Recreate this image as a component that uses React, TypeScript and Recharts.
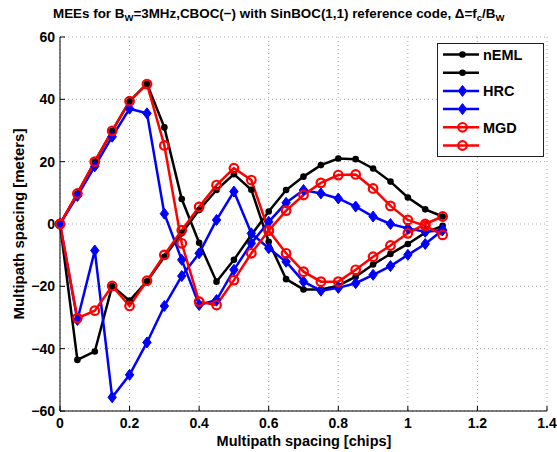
import React from 'react';
import { LineChart, Line, XAxis, YAxis, CartesianGrid, Legend } from 'recharts';

// Multipath spacing [chips]
const spacing = [0, 0.05, 0.1, 0.15, 0.2, 0.25, 0.3, 0.35, 0.4, 0.45, 0.5, 0.55, 0.6, 0.65, 0.7, 0.75, 0.8, 0.85, 0.9, 0.95, 1.0, 1.05, 1.1];

// Multipath error envelopes [meters]
const nemlUpper = [0, 9.8, 20, 29.9, 39.4, 45, 31, 8, -6, -18.5, -11.5, -3.5, 4, 10.9, 15.2, 18.9, 21, 20.8, 17.8, 13.6, 8.5, 4.7, 2.4];
const nemlLower = [0, -43.6, -40.9, -19.9, -24.6, -18.4, -10.5, -3, 4.5, 10.9, 16, 11, -5.7, -17.7, -21, -21, -19.8, -16.9, -13, -9.6, -6.4, -2.8, -0.6];
const hrcUpper = [0, 9, 18.5, 28, 37, 35.5, 3.3, -11.5, -26, -24.4, -14.7, -6.2, 0.7, 6.8, 10.9, 9.8, 8.2, 5.6, 2.4, 0, -1.4, -2.5, -2];
const hrcLower = [0, -30.8, -8.5, -55.6, -48.4, -38, -26.3, -16.7, -9.4, 1.3, 10.4, -3, -7.8, -12.1, -18.5, -21.4, -20.5, -19, -16.3, -13.5, -9.9, -6.4, -1.9];
const mgdUpper = [0, 9.8, 20, 29.9, 39.4, 44.9, 25.2, -6.2, -24.9, -26, -18, -9.4, -2.1, 4.3, 9.3, 13.2, 15.7, 15.9, 11.4, 5.8, 1.3, -0.6, -3.5];
const mgdLower = [0, -30.2, -27.8, -19.9, -26.3, -18.2, -9.9, -2, 5.5, 12.5, 17.9, 14.1, -2.1, -9.4, -15.3, -18.5, -18.5, -14.7, -10.5, -6.9, -3, 0, 2.4];

const xTicks = [0, 0.2, 0.4, 0.6, 0.8, 1, 1.2, 1.4];
const yTicks = [-60, -40, -20, 0, 20, 40, 60];
const legendLabels = ['nEML', '', 'HRC', '', 'MGD', ''];

const FONT = '"Liberation Sans", Arial, Helvetica, sans-serif';
const BLACK = '#000000';
const BLUE = '#0000ff';
const RED = '#ff0000';

const data = spacing.map((x, i) => ({
  x,
  nemlUpper: nemlUpper[i],
  nemlLower: nemlLower[i],
  hrcUpper: hrcUpper[i],
  hrcLower: hrcLower[i],
  mgdUpper: mgdUpper[i],
  mgdLower: mgdLower[i],
}));

const renderMarker = (kind: string, cx: number, cy: number, key?: string) => {
  if (kind === 'dot') return <circle key={key} cx={cx} cy={cy} r={3.3} fill={BLACK} stroke="none" />;
  if (kind === 'diamond')
    return (
      <path key={key} d={`M${cx},${cy - 5.5}L${cx + 4.2},${cy}L${cx},${cy + 5.5}L${cx - 4.2},${cy}Z`} fill={BLUE} stroke={BLUE} strokeWidth={1} />
    );
  return <circle key={key} cx={cx} cy={cy} r={4.3} fill="none" stroke={RED} strokeWidth={2.2} />;
};

const makeDot = (kind: string, name: string) => (props: any) => {
  const { cx, cy, index } = props;
  if (cx == null || cy == null) return <g key={`${name}-${index}`} />;
  return renderMarker(kind, cx, cy, `${name}-${index}`);
};

const legendKinds = [
  { color: BLACK, kind: 'dot' },
  { color: BLACK, kind: 'dot' },
  { color: BLUE, kind: 'diamond' },
  { color: BLUE, kind: 'diamond' },
  { color: RED, kind: 'circle' },
  { color: RED, kind: 'circle' },
];

const LegendBox = () => (
  <svg width={107} height={114} style={{ display: 'block' }}>
    <rect x={0.5} y={0.5} width={106} height={113} fill="#ffffff" stroke="#222" strokeWidth={1} />
    {legendKinds.map((k, i) => {
      const y = 11.5 + i * 18.2;
      return (
        <g key={i}>
          <line x1={6} x2={42} y1={y} y2={y} stroke={k.color} strokeWidth={2.5} />
          {renderMarker(k.kind, 25.5, y)}
          {legendLabels[i] ? (
            <text x={46} y={y} dy="0.36em" fontFamily={FONT} fontWeight="bold" fontSize={14.5} fill="#000">
              {legendLabels[i]}
            </text>
          ) : null}
        </g>
      );
    })}
  </svg>
);

const TitleText = () => (
  <text x={53} y={18} fontFamily={FONT} fontWeight="bold" fontSize={13.4} fill="#000">
    MEEs for B
    <tspan dy={3} fontSize={9.5}>W</tspan>
    <tspan dy={-3}>=3MHz,CBOC(−) with SinBOC(1,1) reference code, Δ=f</tspan>
    <tspan dy={3} fontSize={9.5}>c</tspan>
    <tspan dy={-3}>/B</tspan>
    <tspan dy={3} fontSize={9.5}>W</tspan>
  </text>
);

const XLabel = () => (
  <text x={304} y={446} textAnchor="middle" fontFamily={FONT} fontWeight="bold" fontSize={14.5} fill="#000">
    Multipath spacing [chips]
  </text>
);

const YLabelAndTitle = () => (
  <g>
    <text x={24} y={224} transform="rotate(-90 24 224)" textAnchor="middle" fontFamily={FONT} fontWeight="bold" fontSize={15} fill="#000">
      Multipath spacing [meters]
    </text>
    <TitleText />
  </g>
);

const fmtTick = (v: number) => String(v).replace('-', '\u2212');
const tickStyle = { fontSize: 14, fontWeight: 'bold', fill: '#000', fontFamily: FONT };
const axisLine = { stroke: '#000', strokeWidth: 1 };
const tickLine = { stroke: '#000', strokeWidth: 1 };

export default function App() {
  const series = [
    { key: 'nemlUpper', color: BLACK, kind: 'dot' },
    { key: 'nemlLower', color: BLACK, kind: 'dot' },
    { key: 'hrcUpper', color: BLUE, kind: 'diamond' },
    { key: 'hrcLower', color: BLUE, kind: 'diamond' },
    { key: 'mgdUpper', color: RED, kind: 'circle' },
    { key: 'mgdLower', color: RED, kind: 'circle' },
  ];
  return (
    <div style={{ position: 'absolute', left: 0, top: 0, width: 557, height: 452, background: '#fff' }}>
      <LineChart width={557} height={452} data={data} margin={{ top: 37, right: 10, bottom: 0, left: 0 }}>
        <CartesianGrid stroke="#a8a8a8" strokeDasharray="1 3" strokeWidth={1} />
        <XAxis
          dataKey="x"
          type="number"
          domain={[0, 1.4]}
          ticks={xTicks}
          height={41}
          tick={tickStyle}
          tickSize={-5}
          tickMargin={12}
          axisLine={axisLine}
          tickLine={tickLine}
          label={{ content: () => <XLabel /> }}
        />
        <XAxis
          xAxisId="top"
          orientation="top"
          dataKey="x"
          type="number"
          domain={[0, 1.4]}
          ticks={xTicks}
          height={0}
          tick={false}
          tickSize={-5}
          axisLine={axisLine}
          tickLine={tickLine}
        />
        <YAxis
          type="number"
          domain={[-60, 60]}
          ticks={yTicks}
          width={60}
          tick={tickStyle}
          tickFormatter={fmtTick}
          tickSize={-5}
          tickMargin={10}
          axisLine={axisLine}
          tickLine={tickLine}
          label={{ content: () => <YLabelAndTitle /> }}
        />
        <YAxis
          yAxisId="right"
          orientation="right"
          type="number"
          domain={[-60, 60]}
          ticks={yTicks}
          width={0}
          tick={false}
          tickSize={-5}
          axisLine={axisLine}
          tickLine={tickLine}
        />
        {series.map((s) => (
          <Line
            key={s.key}
            dataKey={s.key}
            type="linear"
            stroke={s.color}
            strokeWidth={2.5}
            dot={makeDot(s.kind, s.key)}
            activeDot={false}
            isAnimationActive={false}
          />
        ))}
        <Legend
          layout="vertical"
          align="center"
          verticalAlign="middle"
          content={() => <LegendBox />}
          wrapperStyle={{ position: 'absolute', left: 437, top: 43, width: 107, height: 114 }}
        />
      </LineChart>
    </div>
  );
}
